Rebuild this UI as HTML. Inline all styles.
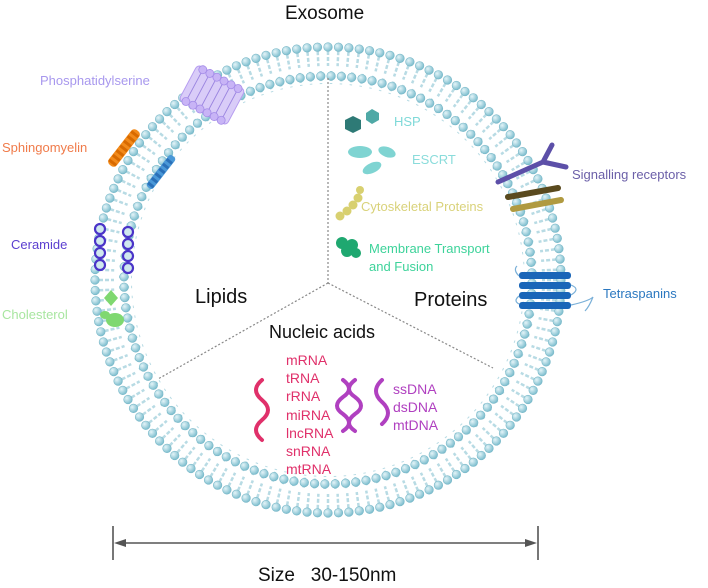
<!DOCTYPE html>
<html><head><meta charset="utf-8"><style>
html,body{margin:0;padding:0;background:#fff;}
body{width:708px;height:588px;overflow:hidden;position:relative;font-family:"Liberation Sans",Arial,sans-serif;}
.t{position:absolute;white-space:nowrap;line-height:1;}
</style></head><body>
<svg id="s" width="708" height="588" style="position:absolute;left:0;top:0">
<defs>
<radialGradient id="hg" cx="35%" cy="35%" r="65%"><stop offset="0" stop-color="#e4f4f8"/><stop offset="1" stop-color="#7fbfcf"/></radialGradient>
</defs>
<g id="mem"></g>
<g stroke="#888" stroke-width="1.2" stroke-dasharray="2,2" fill="none">
<line x1="328" y1="78" x2="328" y2="283"/>
<line x1="328" y1="283" x2="158" y2="379"/>
<line x1="328" y1="283" x2="493" y2="368"/>
</g>
<g transform="translate(212,95) rotate(28)">
<rect x="-27" y="-20" width="54" height="40" rx="4" fill="#d9ccf8" stroke="#b69cf0" stroke-width="1"/>
<g stroke="#9a84e0" stroke-width="0.9" fill="none">
<line x1="-20" y1="-18" x2="-20" y2="18"/><line x1="-12" y1="-18" x2="-12" y2="18"/><line x1="-4" y1="-18" x2="-4" y2="18"/><line x1="4" y1="-18" x2="4" y2="18"/><line x1="12" y1="-18" x2="12" y2="18"/><line x1="20" y1="-18" x2="20" y2="18"/>
</g>
<g fill="#c8b4f6" stroke="#a48ce8" stroke-width="0.8" id="ps"></g>
</g>
<g transform="translate(124,148) rotate(-52)"><rect x="-22" y="-5" width="44" height="10" rx="4" fill="#f28a1a"/>
<line x1="-20" y1="0" x2="20" y2="0" stroke="#d86a00" stroke-dasharray="3,3" stroke-width="9"/></g>
<g transform="translate(161,172) rotate(-52)"><rect x="-20" y="-4" width="40" height="8" rx="3" fill="#4a98d8"/>
<line x1="-18" y1="0" x2="18" y2="0" stroke="#2a70b8" stroke-dasharray="3,3" stroke-width="7"/></g>
<g fill="#cfe8ee" stroke="#4a34c8" stroke-width="2.2">
<circle cx="100" cy="229" r="5"/><circle cx="100" cy="241" r="5"/><circle cx="100" cy="253" r="5"/><circle cx="100" cy="265" r="5"/>
<circle cx="128" cy="232" r="5"/><circle cx="128" cy="244" r="5"/><circle cx="128" cy="256" r="5"/><circle cx="128" cy="268" r="5"/>
</g>
<g fill="#7fd870"><path d="M104 298 l7 -8 l7 8 l-7 8z"/><ellipse cx="115" cy="320" rx="9" ry="7"/><ellipse cx="105" cy="315" rx="5" ry="4"/></g>
<path d="M345 120 l8 -4 l8 4 v9 l-8 4 l-8 -4z" fill="#2e7a76"/><path d="M366 113 l6 -4 l7 4 v7 l-7 4 l-6 -4z" fill="#4fa9a6"/>
<g fill="#7fd4d2"><ellipse cx="360" cy="152" rx="12" ry="6"/><ellipse cx="387" cy="152" rx="9" ry="5" transform="rotate(20 387 152)"/><ellipse cx="372" cy="168" rx="10" ry="5" transform="rotate(-25 372 168)"/></g>
<g fill="#d8d070"><circle cx="340" cy="216" r="4.5"/><circle cx="347" cy="211" r="4.5"/><circle cx="353" cy="205" r="4.5"/><circle cx="358" cy="198" r="4.5"/><circle cx="360" cy="190" r="4"/></g>
<g fill="#1fa870"><circle cx="342" cy="243" r="6"/><circle cx="352" cy="245" r="6"/><circle cx="347" cy="251" r="6"/><circle cx="356" cy="253" r="5"/></g>
<g stroke="#5c4fa8" stroke-width="5" stroke-linecap="round" fill="none"><path d="M498 182 L543 162 L552 145 M543 162 L566 167"/></g>
<line x1="508" y1="197" x2="558" y2="188" stroke="#5a4a1e" stroke-width="6" stroke-linecap="round"/>
<line x1="513" y1="209" x2="561" y2="200" stroke="#b09a40" stroke-width="6" stroke-linecap="round"/>
<g fill="#1a66b8"><rect x="519" y="272" width="52" height="7" rx="3"/><rect x="519" y="282" width="52" height="7" rx="3"/><rect x="519" y="292" width="52" height="7" rx="3"/><rect x="519" y="302" width="52" height="7" rx="3"/></g>
<path d="M571 285 q10 4 0 10 M571 305 q18 -4 22 -8 q-4 10 -8 14" stroke="#7ab0d8" fill="none" stroke-width="1.2"/>
<path d="M519 276 q-6 -6 -2 -10 M519 296 q-6 5 0 8" stroke="#7ab0d8" fill="none" stroke-width="1.2"/>
<path d="M262 380 q-12 10 0 20 q12 10 0 20 q-12 10 0 20" stroke="#e0306a" stroke-width="4" fill="none" stroke-linecap="round"/>
<g stroke="#b040c0" stroke-width="4" fill="none" stroke-linecap="round">
<path d="M343 380 q12 9 0 17 q-12 9 0 17 q12 9 0 17"/>
<path d="M355 380 q-12 9 0 17 q12 9 0 17 q-12 9 0 17"/>
<path d="M382 380 q-12 11 0 22 q12 11 0 22"/>
</g>
<g stroke="#555" stroke-width="1.6" fill="#555">
<line x1="113" y1="526" x2="113" y2="560"/><line x1="538" y1="526" x2="538" y2="560"/>
<line x1="118" y1="543" x2="533" y2="543"/>
<path d="M114 543 l12 -4 v8z" stroke="none"/><path d="M537 543 l-12 -4 v8z" stroke="none"/>
</g>
</svg>
<script>
var g=document.getElementById('mem'),cx=328,cy=280,h='';
function ring(R,n,off){for(var i=0;i<n;i++){var a=2*Math.PI*(i+off)/n,x=cx+R*Math.cos(a),y=cy+R*Math.sin(a);h+='<circle cx="'+x.toFixed(1)+'" cy="'+y.toFixed(1)+'" r="4.3" fill="url(#hg)" stroke="#79b8c8" stroke-width="0.6"/>';}}
function tails(R1,R2,n,off){for(var i=0;i<n;i++){var a=2*Math.PI*(i+off)/n,c=Math.cos(a),s=Math.sin(a);var x1=cx+R1*c,y1=cy+R1*s,x2=cx+R2*c,y2=cy+R2*s;h+='<line x1="'+x1.toFixed(1)+'" y1="'+y1.toFixed(1)+'" x2="'+x2.toFixed(1)+'" y2="'+y2.toFixed(1)+'" stroke="#b8dbe4" stroke-width="2.5" stroke-dasharray="4,2"/>';}}
tails(229,214,140,0);tails(209,196,124,0.3);
ring(233,140,0);ring(204,124,0.3);
g.innerHTML=h;
var p='';for(var r=0;r<6;r++){p+='<circle cx="'+(-20+r*8)+'" cy="-18" r="4"/><circle cx="'+(-20+r*8)+'" cy="18" r="4"/>';}
document.getElementById('ps').innerHTML=p;
</script>
<div class="t" style="left:285px;top:4px;font-size:19px;color:#111">Exosome</div>
<div class="t" style="left:40px;top:74px;font-size:13px;color:#a898ee">Phosphatidylserine</div>
<div class="t" style="left:2px;top:141px;font-size:13px;color:#f07b4a">Sphingomyelin</div>
<div class="t" style="left:11px;top:238px;font-size:13px;color:#5b3fd0">Ceramide</div>
<div class="t" style="left:2px;top:308px;font-size:13px;color:#a8e6a0">Cholesterol</div>
<div class="t" style="left:195px;top:287px;font-size:20px;color:#111">Lipids</div>
<div class="t" style="left:414px;top:290px;font-size:20px;color:#111">Proteins</div>
<div class="t" style="left:269px;top:323px;font-size:18px;color:#111">Nucleic acids</div>
<div class="t" style="left:394px;top:115px;font-size:13px;color:#7fd9d8">HSP</div>
<div class="t" style="left:412px;top:153px;font-size:13px;color:#8adcdb">ESCRT</div>
<div class="t" style="left:361px;top:200px;font-size:13px;color:#d9d27a">Cytoskeletal Proteins</div>
<div class="t" style="left:369px;top:240px;font-size:13px;color:#3dd39a;line-height:18px">Membrane Transport<br>and Fusion</div>
<div class="t" style="left:572px;top:168px;font-size:13px;color:#6b5fa8">Signalling receptors</div>
<div class="t" style="left:603px;top:287px;font-size:13px;color:#2b78c0">Tetraspanins</div>
<div class="t" style="left:286px;top:351px;font-size:14px;color:#e0306a;line-height:18.2px">mRNA<br>tRNA<br>rRNA<br>miRNA<br>lncRNA<br>snRNA<br>mtRNA</div>
<div class="t" style="left:393px;top:380px;font-size:14px;color:#b040c0;line-height:18.2px">ssDNA<br>dsDNA<br>mtDNA</div>
<div class="t" style="left:258px;top:566px;font-size:19px;color:#111">Size&nbsp;&nbsp;&nbsp;30-150nm</div>
</body></html>
